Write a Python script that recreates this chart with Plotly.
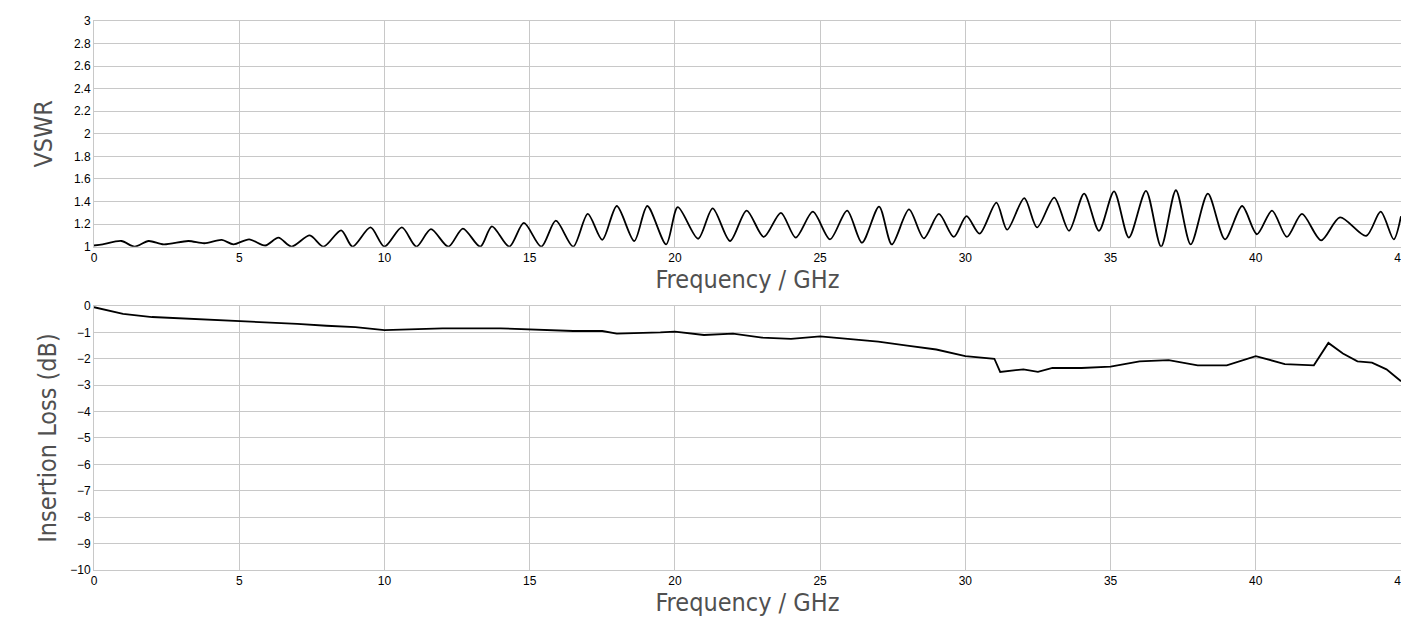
import plotly.graph_objects as go
from plotly.subplots import make_subplots

# VSWR (peaks and troughs)
vswr_freq = [0.0, 0.3, 0.94, 1.4, 1.88, 2.4, 3.25, 3.8, 4.4, 4.8, 5.34, 5.9, 6.35, 6.8, 7.43,
             7.9, 8.51, 8.9, 9.52, 10.0, 10.6, 11.1, 11.6, 12.2, 12.7, 13.3, 13.7, 14.3,
             14.8, 15.4, 15.9, 16.5, 17.0, 17.5, 18.0, 18.6, 19.05, 19.7, 20.1, 20.8,
             21.3, 21.9, 22.47, 23.06, 23.65, 24.16, 24.75, 25.34, 25.93, 26.44, 27.03,
             27.47, 28.06, 28.57, 29.09, 29.6, 30.04, 30.49, 31.07, 31.44, 32.03, 32.47,
             33.06, 33.57, 34.09, 34.6, 35.12, 35.63, 36.22, 36.74, 37.25, 37.76, 38.35,
             38.94, 39.53, 40.04, 40.56, 41.07, 41.59, 42.25, 42.9, 43.8, 44.3, 44.75, 45.0]
vswr_vals = [1.01, 1.02, 1.05, 1.0, 1.05, 1.02, 1.05, 1.03, 1.06, 1.02, 1.065, 1.01, 1.08, 1.0, 1.10,
             1.0, 1.145, 1.0, 1.17, 1.0, 1.17, 1.0, 1.155, 1.0, 1.16, 1.0, 1.18, 1.0,
             1.21, 1.0, 1.23, 1.0, 1.29, 1.06, 1.36, 1.05, 1.36, 1.02, 1.35, 1.07,
             1.34, 1.05, 1.32, 1.086, 1.30, 1.08, 1.31, 1.065, 1.32, 1.035, 1.355,
             1.02, 1.33, 1.074, 1.29, 1.086, 1.27, 1.115, 1.39, 1.15, 1.43, 1.17,
             1.435, 1.14, 1.47, 1.14, 1.49, 1.08, 1.495, 1.0, 1.50, 1.02, 1.47,
             1.065, 1.36, 1.11, 1.32, 1.086, 1.29, 1.056, 1.26, 1.095, 1.31, 1.065, 1.27]

# Insertion loss
il_freq = [0, 1, 2, 4, 6, 7, 8, 9, 10, 12, 14, 15, 16.5, 17.5, 18, 19.5, 20, 21, 22, 23, 24,
           25, 26, 27, 28, 29, 30, 31, 31.2, 32, 32.5, 33, 34, 35, 36, 37, 38, 39, 40, 41,
           42, 42.5, 43, 43.5, 44, 44.5, 45]
il_vals = [-0.05, -0.3, -0.42, -0.52, -0.62, -0.68, -0.75, -0.8, -0.92, -0.85, -0.85, -0.9,
           -0.95, -0.95, -1.05, -1.0, -0.97, -1.1, -1.05, -1.2, -1.25, -1.15, -1.25, -1.35,
           -1.5, -1.65, -1.9, -2.0, -2.5, -2.4, -2.5, -2.35, -2.35, -2.3, -2.1, -2.05,
           -2.25, -2.25, -1.9, -2.2, -2.25, -1.4, -1.8, -2.1, -2.15, -2.4, -2.85]

fig = make_subplots(rows=2, cols=1)
fig.add_trace(go.Scatter(x=vswr_freq, y=vswr_vals, mode="lines",
                         line=dict(color="black", width=1.8, shape="spline", smoothing=0.8)),
              row=1, col=1)
fig.add_trace(go.Scatter(x=il_freq, y=il_vals, mode="lines",
                         line=dict(color="black", width=1.8)), row=2, col=1)

title_font = dict(family="DejaVu Sans Condensed, Liberation Sans Narrow, sans-serif",
                  size=25, color="#505050")
axis_style = dict(showgrid=True, gridcolor="#c8c8c8", linecolor="#c8c8c8", showline=True,
                  mirror=True, zeroline=False, automargin=False,
                  tickfont=dict(size=12, color="black"))

fig.update_xaxes(range=[0, 45], dtick=5, title=dict(text="Frequency / GHz", font=title_font, standoff=2),
                 **axis_style)
fig.update_yaxes(**axis_style)
fig.update_yaxes(range=[1, 3], dtick=0.2, title=dict(text="VSWR", font=title_font, standoff=14),
                 domain=[0.589, 1.0], row=1, col=1)
fig.update_yaxes(range=[-10, 0], dtick=1, title=dict(text="Insertion Loss (dB)", font=title_font, standoff=6),
                 domain=[0.0, 0.481], row=2, col=1)

fig.update_layout(width=1409, height=629, showlegend=False, plot_bgcolor="white",
                  paper_bgcolor="white", margin=dict(l=86, r=16, t=13, b=67),
                  font=dict(family="Arial, Liberation Sans, sans-serif"))

fig.write_html("out.html")
